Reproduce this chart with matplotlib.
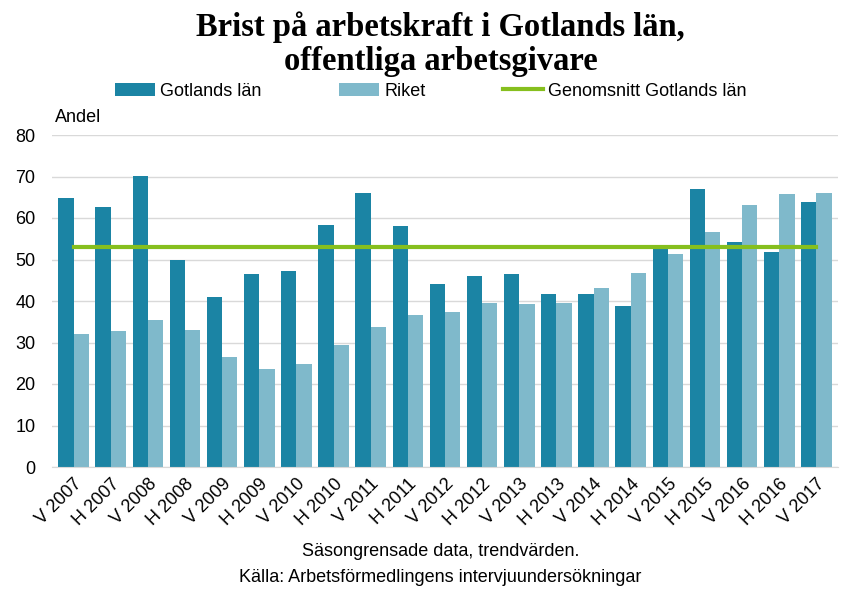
import numpy as np
import matplotlib
matplotlib.use('Agg')
import matplotlib.pyplot as plt

periods = ['V 2007', 'H 2007', 'V 2008', 'H 2008', 'V 2009', 'H 2009', 'V 2010',
           'H 2010', 'V 2011', 'H 2011', 'V 2012', 'H 2012', 'V 2013', 'H 2013',
           'V 2014', 'H 2014', 'V 2015', 'H 2015', 'V 2016', 'H 2016', 'V 2017']
gotland = [64.8, 62.6, 70.1, 49.8, 40.9, 46.5, 47.2, 58.3, 66.0, 58.0, 44.1,
           46.0, 46.5, 41.6, 41.6, 38.7, 52.7, 67.0, 54.2, 51.8, 63.8]
riket = [32.0, 32.7, 35.4, 33.0, 26.4, 23.6, 24.8, 29.3, 33.7, 36.6, 37.3,
         39.5, 39.2, 39.5, 43.1, 46.7, 51.3, 56.6, 63.1, 65.8, 66.0]
snitt_gotland = 53.0

plt.rcParams['font.family'] = ['Liberation Sans', 'DejaVu Sans']

fig = plt.figure(figsize=(8.62, 5.91), dpi=100)
ax = fig.add_axes([52 / 862, 1 - 467 / 591, 786 / 862, 332 / 591])

x = np.arange(len(periods))
w = 0.41
b1 = ax.bar(x - w / 2, gotland, width=w, color='#1b84a4', label='Gotlands län', zorder=2)
b2 = ax.bar(x + w / 2, riket, width=w, color='#7fb9cb', label='Riket', zorder=2)
ln, = ax.plot(x, [snitt_gotland] * len(x), color='#86bf1e', lw=3, zorder=3,
              label='Genomsnitt Gotlands län')

ax.set_xlim(-0.58, len(x) - 0.42)
ax.set_ylim(0, 80)
ax.set_yticks(range(0, 81, 10))
ax.yaxis.grid(True, color='#d9d9d9', lw=1, zorder=0)
for s in ['top', 'right', 'left']:
    ax.spines[s].set_visible(False)
ax.spines['bottom'].set_color('#d9d9d9')
ax.tick_params(axis='both', length=0, labelsize=13, colors='black')
ax.tick_params(axis='y', pad=12)
ax.set_xticks(x)
ax.set_xticklabels(periods, rotation=45, ha='right', rotation_mode='anchor')
ax.tick_params(axis='x', pad=6)

fig.text(55 / 862, 1 - 117 / 591, 'Andel', fontsize=13, va='center')

fig.text(0.511, 1 - 44 / 591, 'Brist på arbetskraft i Gotlands län,\noffentliga arbetsgivare',
         ha='center', va='center', fontsize=23.5, fontweight='bold',
         family='Liberation Serif', linespacing=1.12)

fig.legend([b1, b2, ln], ['Gotlands län', 'Riket', 'Genomsnitt Gotlands län'],
           loc='center', bbox_to_anchor=(0.5, 1 - 91 / 591), ncol=3, frameon=False,
           fontsize=13, handlelength=2.2, handleheight=0.7, handletextpad=0.3,
           columnspacing=4.3)

fig.text(0.511, 1 - 551 / 591, 'Säsongrensade data, trendvärden.', ha='center',
         va='center', fontsize=13)
fig.text(0.511, 1 - 577 / 591, 'Källa: Arbetsförmedlingens intervjuundersökningar',
         ha='center', va='center', fontsize=13)

fig.savefig('out.png', dpi=100)
